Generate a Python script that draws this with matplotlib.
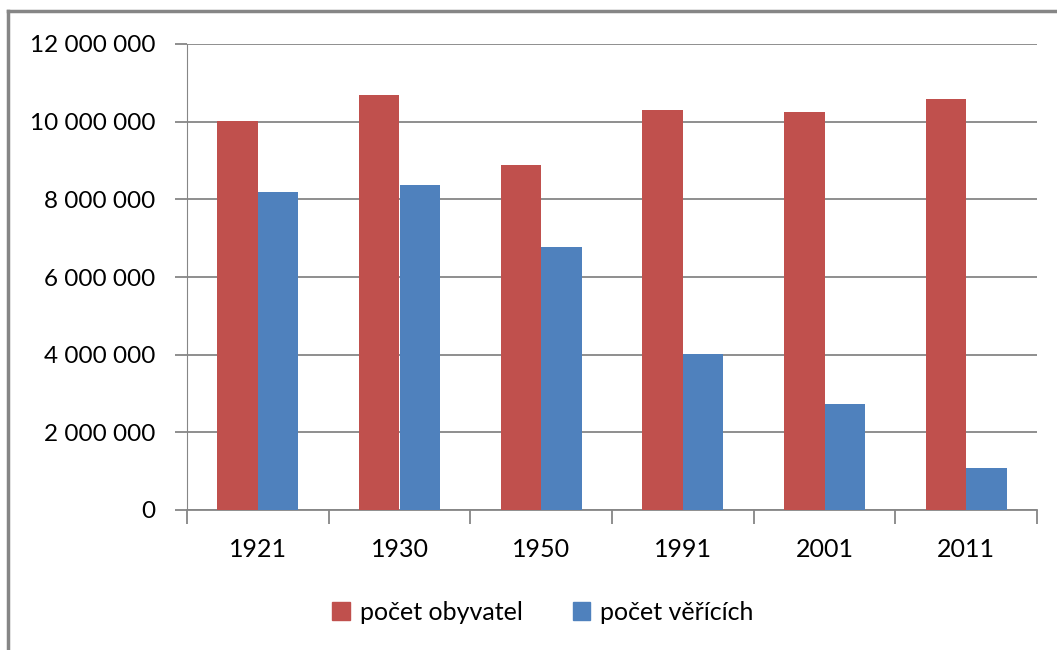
import matplotlib.pyplot as plt
import numpy as np
from matplotlib.lines import Line2D
from matplotlib.patches import Patch

# Data
years = ["1921", "1930", "1950", "1991", "2001", "2011"]
obyvatel = [10010000, 10690000, 8880000, 10300000, 10250000, 10580000]
vericich = [8190000, 8370000, 6770000, 4020000, 2730000, 1080000]
series_names = ["počet obyvatel", "počet věřících"]

red = "#C0504D"
blue = "#4F81BD"
grid_col = "#868686"

plt.rcParams["font.family"] = ["Lato", "DejaVu Sans"]

fig = plt.figure(figsize=(10.57, 6.5), dpi=100)
ax = fig.add_axes([187 / 1057, 1 - 510 / 650, 850 / 1057, 466 / 650])

x = np.arange(len(years))
w = 0.286
ax.bar(x - w / 2, obyvatel, w, color=red, zorder=3)
ax.bar(x + w / 2, vericich, w, color=blue, zorder=3)

ax.set_xlim(-0.5, len(years) - 0.5)
ax.set_ylim(0, 12000000)
ax.set_yticks(np.arange(0, 12000001, 2000000))
ax.set_yticklabels([f"{int(v):,}".replace(",", " ") for v in ax.get_yticks()])
ax.yaxis.grid(True, color=grid_col, linewidth=1.3, zorder=0)

ax.set_xticks(x)
ax.set_xticklabels(years)
ax.set_xticks(np.arange(-0.5, len(years), 1), minor=True)
ax.tick_params(axis="x", which="major", length=0, pad=20, labelsize=18)
ax.tick_params(axis="x", which="minor", length=10, color=grid_col, width=1.3)
ax.tick_params(axis="y", length=9, color=grid_col, width=1.3, pad=14, labelsize=17.5)

for side in ["top", "right"]:
    ax.spines[side].set_visible(False)
ax.spines["left"].set_color(grid_col)
ax.spines["bottom"].set_color(grid_col)
ax.spines["bottom"].set_linewidth(1.3)

handles = [Patch(color=red), Patch(color=blue)]
fig.legend(handles, series_names, loc="center", bbox_to_anchor=(543 / 1057, 1 - 612 / 650),
           ncol=2, frameon=False, fontsize=18, handlelength=0.7, handleheight=0.7,
           handletextpad=0.4, columnspacing=2.0)

# outer chart border (left and top)
fig.add_artist(Line2D([8 / 1057, 8 / 1057], [0, 1 - 11 / 650], color=grid_col, linewidth=2.5,
                      transform=fig.transFigure))
fig.add_artist(Line2D([8 / 1057, 1], [1 - 11 / 650, 1 - 11 / 650], color=grid_col, linewidth=2.5,
                      transform=fig.transFigure))

fig.savefig("out.png", dpi=100)
